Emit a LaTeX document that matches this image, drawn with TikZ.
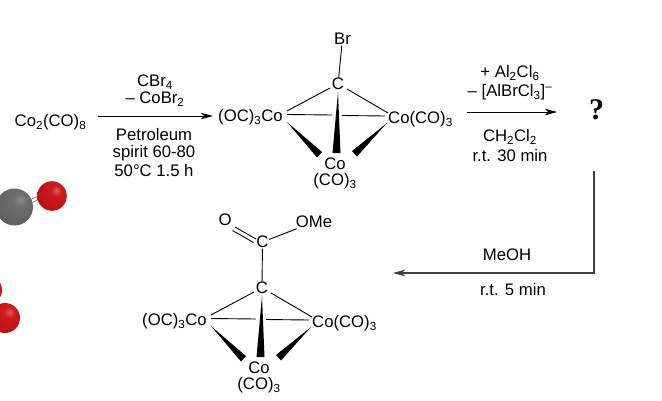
\documentclass[tikz,border=0pt]{standalone}
\usepackage{fontspec}
\setmainfont{Liberation Sans}
\newfontfamily\qfont{Liberation Serif}
\usetikzlibrary{arrows.meta}
\newcommand{\sbs}[1]{\textsubscript{#1}}
\definecolor{rA}{rgb}{0.87,0.36,0.36}
\definecolor{rB}{rgb}{0.80,0.11,0.11}
\definecolor{rC}{rgb}{0.74,0.07,0.07}
\definecolor{rD}{rgb}{0.56,0.05,0.05}
\definecolor{gA}{rgb}{0.54,0.54,0.54}
\definecolor{gB}{rgb}{0.43,0.43,0.43}
\definecolor{gC}{rgb}{0.38,0.38,0.38}
\definecolor{gD}{rgb}{0.27,0.27,0.27}
\pgfdeclareradialshading{redball}{\pgfpoint{8bp}{10bp}}{color(0bp)=(rA);color(9bp)=(rB);color(30bp)=(rC);color(58bp)=(rD);color(100bp)=(rD)}
\pgfdeclareradialshading{grayball}{\pgfpoint{8bp}{10bp}}{color(0bp)=(gA);color(9bp)=(gB);color(30bp)=(gC);color(58bp)=(gD);color(100bp)=(gD)}
\tikzset{
  lbl/.style={font=\fontsize{16.7}{16.7}\selectfont, inner sep=0.5pt, text height=11.5pt, text depth=0.5pt, anchor=center},
  bond/.style={line width=0.9pt, black},
  wedge/.style={fill=black, draw=none},
  rxn/.style={line width=1pt, black, -{Stealth[length=12pt,width=6.5pt,inset=3pt]}},
  rxnline/.style={line width=1.1pt, black!75, -{Stealth[length=12pt,width=6.5pt,inset=3pt]}},
}
\newcommand{\cluster}[3]{% prefix, dx, dy
  \begin{scope}[shift={(#2,#3)}]
    \node[lbl] (#1c) at (338,84) {C};
    \node[lbl] (#1l) at (250.5,116) {(OC)\sbs{3}Co};
    \node[lbl] (#1r) at (420.5,118) {Co(CO)\sbs{3}};
    \node[lbl] (#1b) at (335,164) {Co};
    \node[lbl] (#1bb) at (335,180) {(CO)\sbs{3}};
    \coordinate (#1lt) at (287,114.5);
    \coordinate (#1rt) at (385,116);
    \coordinate (#1cb) at (338,92);
    \coordinate (#1gapl) at (332,115);
    \coordinate (#1gapr) at (342,115.5);
    \coordinate (#1lw) at (287,122);
    \coordinate (#1rw) at (387,123);
    \draw[bond] (330,88) -- (287,111);
    \draw[bond] (347,89) -- (388,113);
    \draw[bond] (#1lt) -- (#1gapl);
    \draw[bond] (#1gapr) -- (#1rt);
    \fill[wedge] (#1cb) -- (340.5,153) -- (332.5,153) -- cycle;
    \fill[wedge] (#1lw) -- (322,152) -- (317,157.5) -- cycle;
    \fill[wedge] (#1rw) -- (357,156.5) -- (352,151) -- cycle;
  \end{scope}
}
\begin{document}
\begin{tikzpicture}[x=1pt,y=-1pt]
\useasboundingbox (0,0) rectangle (662,400);
% ball-and-stick fragment
\begin{scope}
  \clip (0,0) rectangle (662,400);
  \draw[line width=0.8pt,black!50] (31,199.5) -- (41,194.5);
  \draw[line width=0.8pt,black!50] (32.5,202.5) -- (42,197.5);
  \shade[shading=grayball] (14.5,207) circle (18.5);
  \shade[shading=redball] (52,196) circle (14.8);
  \shade[shading=redball] (-13,290) circle (15);
  \shade[shading=redball] (5,318) circle (15);
\end{scope}
% first step
\node[lbl] (start) at (50.5,121) {Co\sbs{2}(CO)\sbs{8}};
\coordinate (a1s) at (98,116);
\coordinate (a1e) at (213,116);
\draw[rxn] (a1s) -- (a1e);
\node[lbl] (t1) at (155,81) {CBr\sbs{4}};
\node[lbl] (t2) at (155,98) {– CoBr\sbs{2}};
\node[lbl] (t3) at (154,135) {Petroleum};
\node[lbl] (t4) at (154,152) {spirit 60-80};
\node[lbl] (t5) at (154,171) {50°C 1.5 h};
% bromo cluster
\cluster{m}{0}{0}
\node[lbl] (br) at (342.5,39) {Br};
\draw[bond] (br) -- (mc);
% second step
\coordinate (a2s) at (467,112);
\coordinate (a2e) at (557,112);
\draw[rxn] (a2s) -- (a2e);
\node[lbl] (u1) at (510,72) {+ Al\sbs{2}Cl\sbs{6}};
\node[lbl] (u2) at (510,91) {– [AlBrCl\sbs{3}]\textsuperscript{–}};
\node[lbl] (u3) at (510,136) {CH\sbs{2}Cl\sbs{2}};
\node[lbl] (u4) at (510,156) {r.t. 30 min};
\node[font=\qfont\bfseries\fontsize{30}{30}\selectfont, inner sep=0pt] (q) at (596.5,110) {?};
% third step
\coordinate (a3s) at (594,171);
\coordinate (a3c) at (594,273);
\coordinate (a3e) at (393,273);
\draw[rxnline] (a3s) -- (a3c) -- (a3e);
\node[lbl] (v1) at (507,255) {MeOH};
\node[lbl] (v2) at (513,290) {r.t. 5 min};
% ester cluster
\cluster{n}{-76}{204}
\node[lbl] (cc) at (262.5,242) {C};
\node[lbl] (o) at (225,220) {O};
\node[lbl] (ome) at (314,222) {OMe};
\draw[bond] (cc) -- (nc);
\draw[bond] (cc) -- (ome);
\draw[bond] (235,227) -- (256,239);
\draw[bond] (232.5,230.5) -- (253.5,242.5);
\end{tikzpicture}
\end{document}
